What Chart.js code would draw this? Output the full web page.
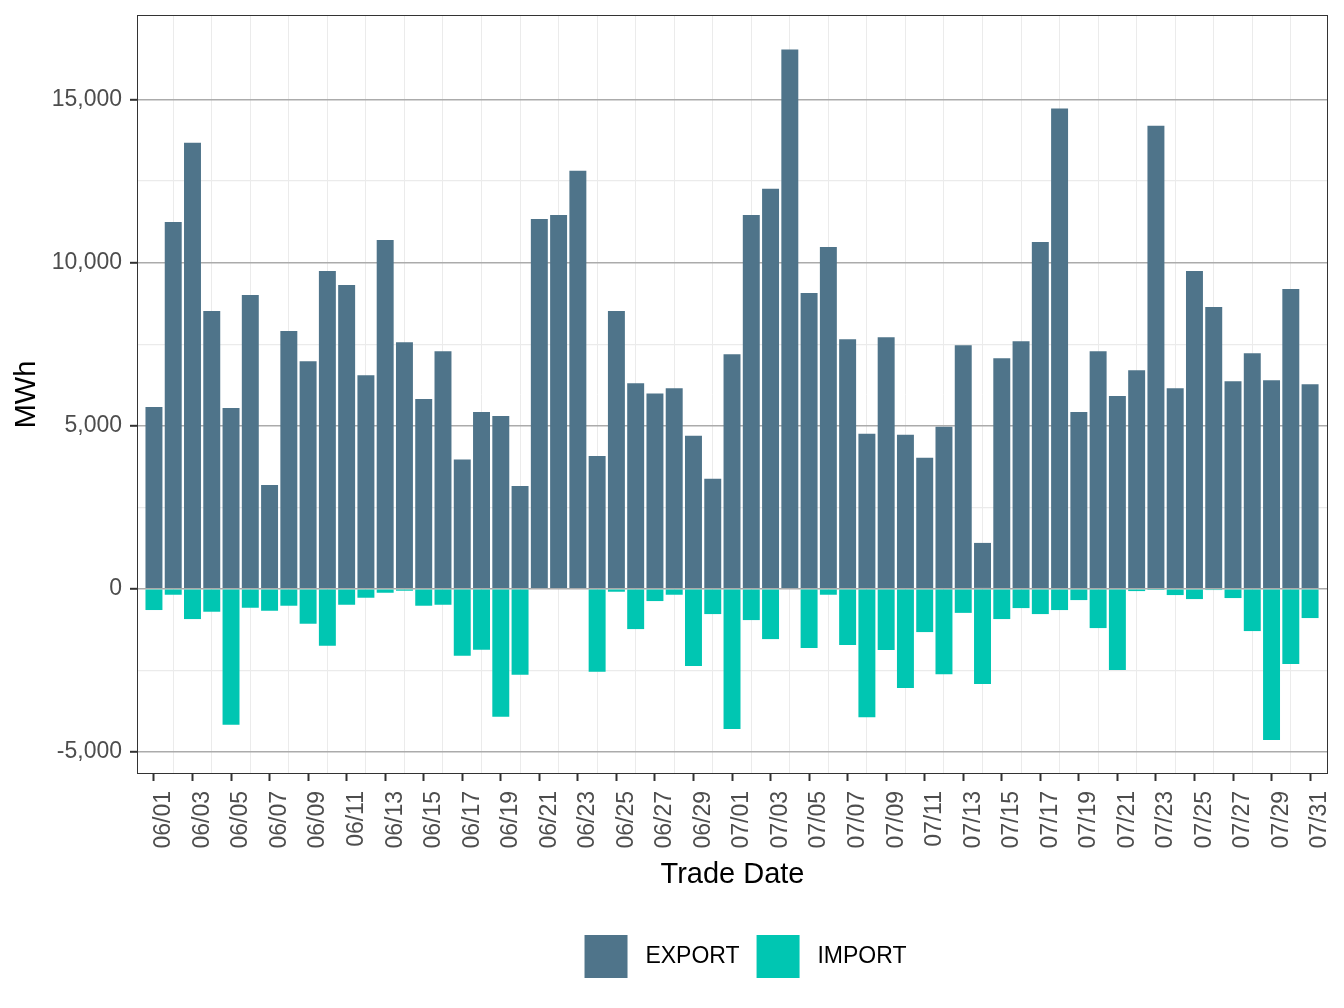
<head>
    <script src="https://cdn.jsdelivr.net/npm/chart.js"></script>
    <style>
        body { margin: 0; background: #fff; }
        #wrap { width: 1344px; height: 1008px; }
    </style>
</head>
<body>
    <div id="wrap"><canvas id="myChart"></canvas></div>
    <script>
        const dates = [
            '06/01','06/02','06/03','06/04','06/05','06/06','06/07','06/08','06/09','06/10',
            '06/11','06/12','06/13','06/14','06/15','06/16','06/17','06/18','06/19','06/20',
            '06/21','06/22','06/23','06/24','06/25','06/26','06/27','06/28','06/29','06/30',
            '07/01','07/02','07/03','07/04','07/05','07/06','07/07','07/08','07/09','07/10',
            '07/11','07/12','07/13','07/14','07/15','07/16','07/17','07/18','07/19','07/20',
            '07/21','07/22','07/23','07/24','07/25','07/26','07/27','07/28','07/29','07/30','07/31'
        ]
        const exportVals = [
            5573, 11245, 13675, 8512, 5542, 9004, 3180, 7898, 6976, 9741,
            9311, 6545, 10694, 7560, 5818, 7283, 3966, 5419, 5297, 3149,
            11339, 11462, 12814, 4070, 8512, 6300, 5982, 6146, 4690, 3374,
            7191, 11462, 12261, 16533, 9065, 10479, 7652, 4755, 7713, 4724,
            4018, 4970, 7467, 1405, 7068, 7590, 10632, 14720, 5419, 7283,
            5910, 6699, 14197, 6146, 9741, 8635, 6361, 7222, 6392, 9188, 6269
        ]
        const importVals = [
            -653, -184, -930, -705, -4171, -583, -675, -521, -1073, -1748,
            -491, -276, -123, -61, -521, -491, -2055, -1871, -3926, -2637,
            0, 0, 0, -2547, -92, -1237, -378, -184, -2371, -777,
            -4304, -961, -1544, 0, -1820, -184, -1728, -3937, -1881, -3047,
            -1329, -2618, -740, -2924, -930, -593, -777, -654, -348, -1206,
            -2494, -72, -10, -194, -317, -40, -286, -1298, -4641, -2310, -899
        ]
        const yTicks = [-5000, -2500, 0, 2500, 5000, 7500, 10000, 12500, 15000]

        const fontFam = '"Liberation Sans", Arial, Helvetica, sans-serif'

        const framePlugin = {
            id: 'frame',
            afterLayout(chart) {
                // nudge legend so it sits where ggplot puts it
                if (chart.legend) { chart.legend.left += 13; chart.legend.right += 13 }
            },
            afterDraw(chart) {
                const a = chart.chartArea, ctx = chart.ctx
                ctx.save()
                ctx.strokeStyle = '#333333'
                ctx.lineWidth = 1
                ctx.strokeRect(a.left + 0.5, a.top + 0.5, a.right - a.left - 1, a.bottom - a.top - 1)
                ctx.restore()
            }
        }

        const ctx = document.getElementById('myChart')
        const myChart = new Chart(ctx, {
            type: 'bar',
            data: {
                datasets: [{
                    label: ' EXPORT',
                    data: exportVals.map((v, i) => ({x: i, y: v})),
                    backgroundColor: '#4f748a'
                }, {
                    label: ' IMPORT',
                    data: importVals.map((v, i) => ({x: i, y: v})),
                    backgroundColor: '#00c6b2'
                }]
            },
            plugins: [framePlugin],
            options: {
                responsive: true,
                maintainAspectRatio: false,
                animation: false,
                barPercentage: 0.88,
                categoryPercentage: 1,
                layout: { padding: { left: 0, right: 16, top: 15, bottom: 20 } },
                plugins: {
                    tooltip: { enabled: false },
                    legend: {
                        position: 'bottom',
                        fullSize: false,
                        labels: {
                            boxWidth: 43,
                            boxHeight: 43,
                            padding: 17,
                            color: '#000',
                            font: { family: fontFam, size: 23 }
                        }
                    }
                },
                scales: {
                    x: {
                        type: 'linear',
                        stacked: true,
                        offset: false,
                        min: -0.88,
                        max: 60.93,
                        afterBuildTicks: (scale) => {
                            scale.ticks = dates.map((d, i) => ({value: i}))
                        },
                        afterFit: (scale) => {
                            scale.height = 144
                            scale.paddingLeft = 0
                            scale.paddingRight = 0
                        },
                        border: { display: false },
                        grid: {
                            offset: false,
                            color: (c) => (c.tick && c.tick.value % 2 === 1) ? '#ebebeb' : 'rgba(0,0,0,0)',
                            tickColor: (c) => (c.tick && c.tick.value % 2 === 0) ? '#333333' : 'rgba(0,0,0,0)',
                            lineWidth: 1,
                            tickWidth: 2,
                            tickLength: 7
                        },
                        ticks: {
                            autoSkip: false,
                            minRotation: 90,
                            maxRotation: 90,
                            padding: 10,
                            labelOffset: 10,
                            color: '#4d4d4d',
                            font: { family: fontFam, size: 23 },
                            callback: (v) => (v % 2 === 0 ? dates[v] : '')
                        },
                        title: {
                            display: true,
                            text: 'Trade Date',
                            color: '#000',
                            font: { family: fontFam, size: 29 },
                            padding: { top: 0, bottom: 26 }
                        }
                    },
                    y: {
                        type: 'linear',
                        stacked: true,
                        min: -5680,
                        max: 17590,
                        afterBuildTicks: (scale) => {
                            scale.ticks = yTicks.map(v => ({value: v}))
                        },
                        afterFit: (scale) => {
                            scale.width = 137
                            scale.paddingTop = 0
                            scale.paddingBottom = 0
                        },
                        border: { display: false },
                        grid: {
                            color: (c) => (c.tick && c.tick.value % 5000 === 0) ? '#ababab' : '#ebebeb',
                            tickColor: (c) => (c.tick && c.tick.value % 5000 === 0) ? '#333333' : 'rgba(0,0,0,0)',
                            lineWidth: (c) => (c.tick && c.tick.value % 5000 === 0) ? 1.6 : 1.2,
                            tickWidth: 2,
                            tickLength: 7
                        },
                        ticks: {
                            padding: 8,
                            color: '#4d4d4d',
                            font: { family: fontFam, size: 23 },
                            callback: (v) => (v % 5000 === 0 ? v.toLocaleString('en-US') : '')
                        },
                        title: {
                            display: true,
                            text: 'MWh',
                            color: '#000',
                            font: { family: fontFam, size: 29 },
                            padding: { top: 10, bottom: 0 }
                        }
                    }
                }
            }
        })
    </script>
</body>
